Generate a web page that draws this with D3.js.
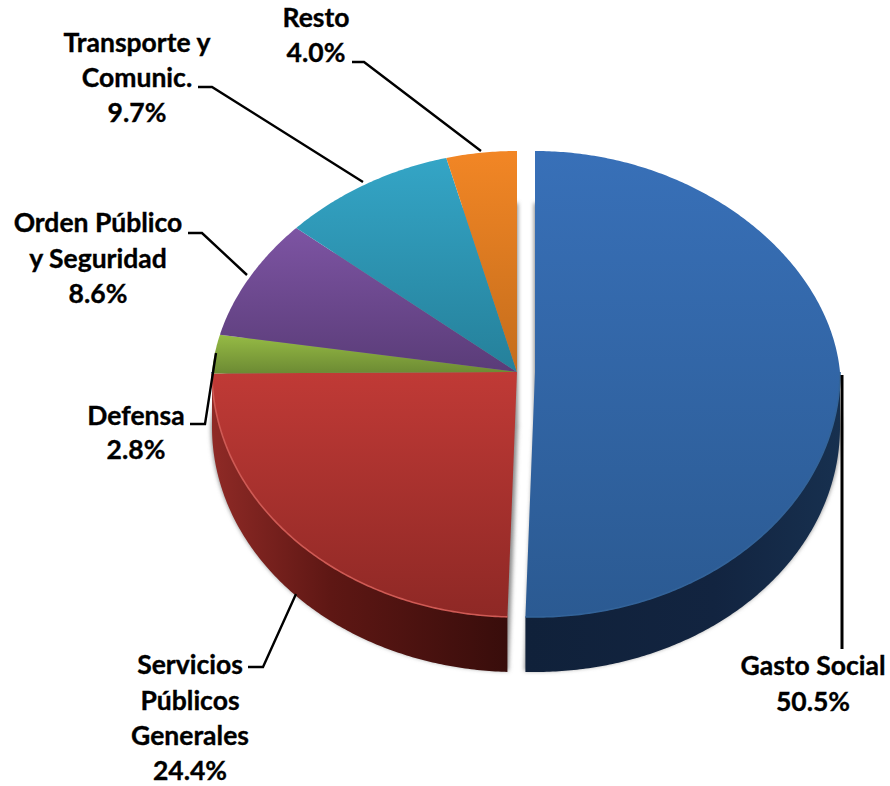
<!DOCTYPE html>
<html><head><meta charset="utf-8">
<script src="https://cdn.jsdelivr.net/npm/d3@7"></script>
<style>html,body{margin:0;padding:0;background:#fff}svg{display:block}text{font-family:Lato,"Open Sans",sans-serif;font-weight:700;font-size:26.5px;fill:#000;stroke:#000;stroke-width:.35px;text-anchor:middle}</style>
</head><body><div id="c"></div>
<script>
const categories = ["Gasto Social","Servicios Públicos Generales","Defensa","Orden Público y Seguridad","Transporte y Comunic.","Resto"];
const values = [50.5,24.4,2.8,8.6,9.7,4.0];
const labelLines = [["Gasto Social","50.5%"],["Servicios","Públicos","Generales","24.4%"],["Defensa","2.8%"],["Orden Público","y Seguridad","8.6%"],["Transporte y","Comunic.","9.7%"],["Resto","4.0%"]];
const topColors = [["#3870b8","#2b5a92"],["#c03a36","#8e2825"],["#96bb45","#6c8a33"],["#7d54a3","#5a3c78"],["#34a5c6","#25809a"],["#f28625","#c46d1c"]];
const sideColors = [["#10213a","#17304f"],["#8f2a26","#380d0b"]];

const W=890,H=786,CY=372,RX=305,RY_BACK=221,RY_FRONT=245,DEPTH=55,BACK_NARROW=0.07;
const centerX=[535,517,517,517,517,517];
const labelPos=[[813,[675,711]],[190,[674,710,745,780]],[136,[425,459]],[98,[232,268,303]],[137,[52,87,122]],[316,[27,62]]];
const leaders=[[[842,375],[842,649]],[[296,594],[263,667],[248,667]],[[216,353],[205,424],[190,424]],[[247,275],[202,233],[188,233]],[[363,182],[212,87],[198,87]],[[481,151],[364,62],[352,62]]];

const svg=d3.select("#c").append("svg").attr("width",W).attr("height",H);
const defs=svg.append("defs");
const blur=defs.append("filter").attr("id","b").attr("x","-10%").attr("y","-10%").attr("width","120%").attr("height","120%");
blur.append("feGaussianBlur").attr("stdDeviation",2);
const soft=defs.append("filter").attr("id","s");
soft.append("feGaussianBlur").attr("stdDeviation",0.6);

topColors.forEach((c,i)=>{
  const g=defs.append("linearGradient").attr("id","t"+i).attr("x1",0).attr("x2",0).attr("y1",0).attr("y2",1);
  g.append("stop").attr("offset",0).attr("stop-color",c[0]);
  g.append("stop").attr("offset",1).attr("stop-color",c[1]);
});
sideColors.forEach((c,i)=>{
  const g=defs.append("linearGradient").attr("id","d"+i).attr("gradientUnits","userSpaceOnUse").attr("y1",0).attr("y2",0)
    .attr("x1",i===0?527:212).attr("x2",i===0?840:508);
  g.append("stop").attr("offset",0).attr("stop-color",c[0]);
  if(i===0) g.append("stop").attr("offset",.6).attr("stop-color","#122440");
  else g.append("stop").attr("offset",.4).attr("stop-color","#5e1714");
  g.append("stop").attr("offset",1).attr("stop-color",c[1]);
});

const arcs=d3.pie().sort(null).value(d=>d)(values);
const project=(i,a,dy=0)=>{const c=Math.cos(a);const back=c>0;return [centerX[i]+RX*Math.sin(a)*(back?1-BACK_NARROW*c:1),CY-c*(back?RY_BACK:RY_FRONT)+dy];};
const line=d3.line();
const samples=(a0,a1)=>{const n=Math.max(2,Math.ceil((a1-a0)/0.01));return d3.range(n+1).map(k=>a0+(a1-a0)*k/n);};
const sector=(i,d,dy=0)=>line([[centerX[i],CY+dy],...samples(d.startAngle,d.endAngle).map(a=>project(i,a,dy))])+"Z";

// cast shadow
svg.append("g").attr("filter","url(#b)").selectAll("path").data(arcs).join("path")
  .attr("d",(d,i)=>sector(i,d,DEPTH-2)).attr("fill","#8a8a8a").attr("stroke","#8a8a8a").attr("stroke-width",2);

// side walls
const front=arcs.map((d,i)=>({i,a0:Math.max(d.startAngle,Math.PI/2),a1:Math.min(d.endAngle,Math.PI*1.5)})).filter(s=>s.a1>s.a0);
svg.append("g").selectAll("path").data(front).join("path")
  .attr("d",s=>{const t=samples(s.a0,s.a1);return line([...t.map(a=>project(s.i,a)),...t.slice().reverse().map(a=>project(s.i,a,DEPTH))])+"Z";})
  .attr("fill",s=>`url(#d${s.i})`);

// top faces
svg.append("g").selectAll("path").data(arcs).join("path")
  .attr("d",(d,i)=>sector(i,d)).attr("fill",(d,i)=>`url(#t${i})`);

// rim highlight
svg.append("g").attr("filter","url(#s)").selectAll("path").data(front).join("path")
  .attr("d",s=>line(samples(s.a0,s.a1).map(a=>project(s.i,a))))
  .attr("fill","none").attr("stroke",s=>s.i===1?"#cf5a54":"#336399").attr("stroke-width",1.6);

// leaders
svg.append("g").selectAll("path").data(leaders).join("path")
  .attr("d",d=>line(d)).attr("fill","none").attr("stroke","#000")
  .attr("stroke-width",(d,i)=>i===0?3:2.4);

// labels
const lg=svg.append("g").selectAll("text").data(labelLines).join("text")
  .attr("aria-label",(d,i)=>categories[i]);
lg.selectAll("tspan").data((d,i)=>d.map((t,j)=>({t,x:labelPos[i][0],y:labelPos[i][1][j]}))).join("tspan")
  .attr("x",d=>d.x).attr("y",d=>d.y).text(d=>d.t);
</script></body></html>
